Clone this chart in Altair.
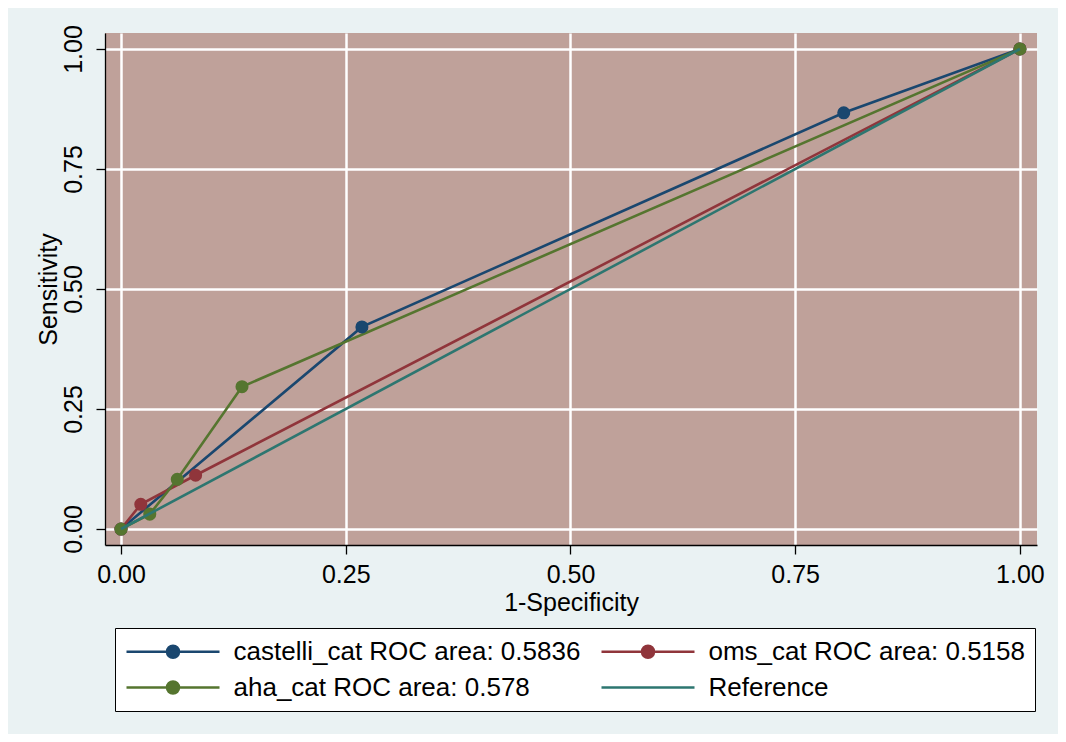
import altair as alt
import pandas as pd

series = ["castelli_cat ROC area: 0.5836", "oms_cat ROC area: 0.5158",
          "aha_cat ROC area: 0.578", "Reference"]
colors = ["#1A476F", "#90353B", "#55752F", "#2D7670"]

castelli_x = [0.0, 0.268, 0.804, 1.0]
castelli_y = [0.0, 0.421, 0.867, 1.0]
oms_x = [0.0, 0.022, 0.083, 1.0]
oms_y = [0.0, 0.0515, 0.112, 1.0]
aha_x = [0.0, 0.032, 0.0626, 0.1346, 1.0]
aha_y = [0.0, 0.031, 0.1035, 0.2965, 1.0]
ref_x = [0.0, 1.0]
ref_y = [0.0, 1.0]

x_ticks = [0, 0.25, 0.5, 0.75, 1.0]
y_ticks = [0, 0.25, 0.5, 0.75, 1.0]

rows = []
for s, c, xs, ys in zip(series, colors, [castelli_x, oms_x, aha_x, ref_x],
                        [castelli_y, oms_y, aha_y, ref_y]):
    for i, (a, b) in enumerate(zip(xs, ys)):
        rows.append({"series": s, "col": c, "fpr": a, "tpr": b, "ord": i})
df = pd.DataFrame(rows)
curves = df[df.series != "Reference"]
ref = df[df.series == "Reference"]

# legend symbols: line with marker / plain line
marker_path = ("M-1,0L6.75,0M2.375,0A0.5,0.5 0 1,0 3.375,0"
               "A0.5,0.5 0 1,0 2.375,0Z")
line_path = "M-1,0L6.75,0"
shapes = [marker_path, marker_path, marker_path, line_path]

FONT = "Liberation Sans"
FS = 25

xscale = alt.Scale(domain=[-0.0178, 1.019], nice=False, zero=False)
yscale = alt.Scale(domain=[-0.0333, 1.0333], nice=False, zero=False)

X = alt.X("fpr:Q", scale=xscale, title="1-Specificity",
          axis=alt.Axis(values=x_ticks, format=".2f", labelPadding=8,
                        titlePadding=3))
Y = alt.Y("tpr:Q", scale=yscale, title="Sensitivity",
          axis=alt.Axis(values=y_ticks, format=".2f", labelAngle=270,
                        labelAlign="center", labelBaseline="bottom",
                        labelPadding=10, titlePadding=0))

lines = alt.Chart(curves).mark_line(strokeWidth=2.6).encode(
    x=X, y=Y, order="ord:Q", detail="series:N",
    color=alt.Color("col:N", scale=None),
)
points = alt.Chart(curves).mark_circle(size=170, opacity=1).encode(
    x=X, y=Y,
    color=alt.Color("col:N", scale=None),
)
refline = alt.Chart(ref).mark_line(strokeWidth=2.6).encode(
    x=X, y=Y, order="ord:Q",
    color=alt.Color("col:N", scale=None),
)

legend = alt.Legend(title=None, orient="none", legendX=10, legendY=595,
                    columns=2, direction="horizontal")
leg = alt.Chart(df).mark_point(filled=True, opacity=0).encode(
    x=X, y=Y,
    fill=alt.Fill("series:N", scale=alt.Scale(domain=series, range=colors),
                  legend=legend),
    stroke=alt.Stroke("series:N", scale=alt.Scale(domain=series, range=colors),
                      legend=legend),
    shape=alt.Shape("series:N", scale=alt.Scale(domain=series, range=shapes),
                    legend=legend),
)

chart = alt.layer(lines, points, refline, leg).properties(
    width=932, height=512,
    background="#EAF2F3",
    padding={"left": 97, "top": 25, "right": 21, "bottom": 189},
    autosize=alt.AutoSizeParams(type="none"),
).configure_view(
    fill="#BFA19A", stroke=None,
).configure_axis(
    labelFont=FONT, labelFontSize=FS, labelColor="black",
    titleFont=FONT, titleFontSize=FS, titleFontWeight="normal",
    titleColor="black", gridColor="white", gridWidth=2.5, gridOpacity=1,
    domainColor="black", domainWidth=1.3, tickColor="black", tickWidth=1.3,
    tickSize=9,
).configure_legend(
    columnPadding=15, rowPadding=9, symbolSize=576, symbolStrokeWidth=2.5,
    symbolOpacity=1, labelOffset=81.5, labelFont=FONT, labelFontSize=26,
    labelColor="black", labelLimit=0, padding=10, strokeColor="black",
    fillColor="white",
)

chart.save("out.html", embed_options={"renderer": "svg", "actions": False})
